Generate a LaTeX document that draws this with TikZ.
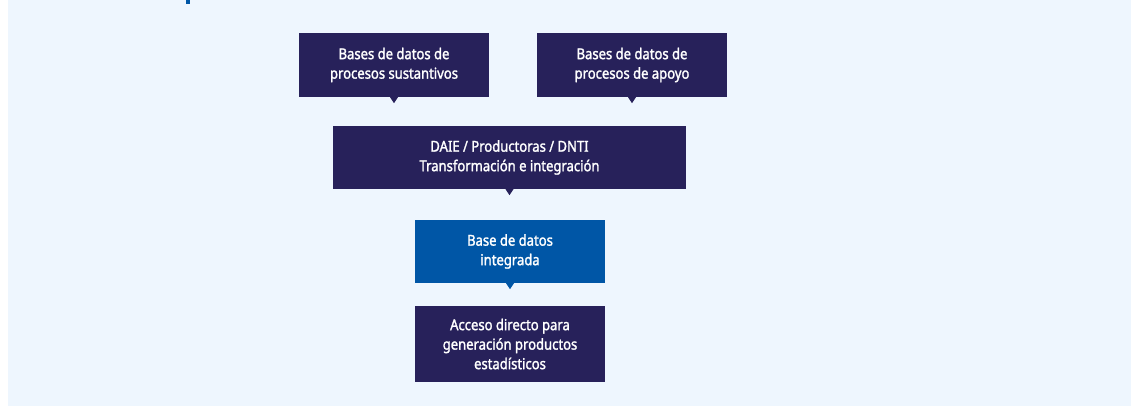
\documentclass[tikz,border=0pt]{standalone}
\usepackage{fontspec}
\setmainfont{Noto Sans}[FakeStretch=0.87, FakeBold=1.6]
\definecolor{navy}{HTML}{27215A}
\definecolor{midblue}{HTML}{0056A6}
\definecolor{paleblue}{HTML}{EEF6FE}

\newcommand{\BoxWidth}{190}
\newcommand{\TipSize}{4}

\tikzset{
    databox/.style={fill=navy, text=white, align=center, inner sep=0pt,
        minimum width=\BoxWidth pt, minimum height=64pt,
        font=\fontsize{15}{19.5}\selectfont},
}

\begin{document}
\begin{tikzpicture}[x=1pt,y=-1pt]
        \useasboundingbox (0,0) rectangle (1131,407);
        \fill[paleblue] (8,0) rectangle (1131,406);% Background
        \fill[midblue] (186,0) rectangle (190,4);

        \node[databox] (sust) at (394,65) {Bases de datos de\\procesos sustantivos};
        \node[databox] (apoyo) at (632,65) {Bases de datos de\\procesos de apoyo};
        \node[databox, minimum width=353pt, minimum height=63pt] (integ) at (509.5,157.5) {DAIE / Productoras / DNTI\\Transformación e integración};
        \node[databox, fill=midblue, minimum height=63pt] (bdi) at (510,251.5) {Base de datos\\integrada};
        \node[databox, minimum height=76pt] (acceso) at (510,344) {Acceso directo para\\generación productos\\estadísticos};

        \foreach \n in {sust,apoyo,integ}
            \fill[navy] ([xshift=-\TipSize pt]\n.south) -- ([xshift=\TipSize pt]\n.south) -- ([yshift=-6pt]\n.south) -- cycle;% Pointer
        \fill[midblue] ([xshift=-\TipSize pt]bdi.south) -- ([xshift=\TipSize pt]bdi.south) -- ([yshift=-6pt]bdi.south) -- cycle;
    \end{tikzpicture}
\end{document}
